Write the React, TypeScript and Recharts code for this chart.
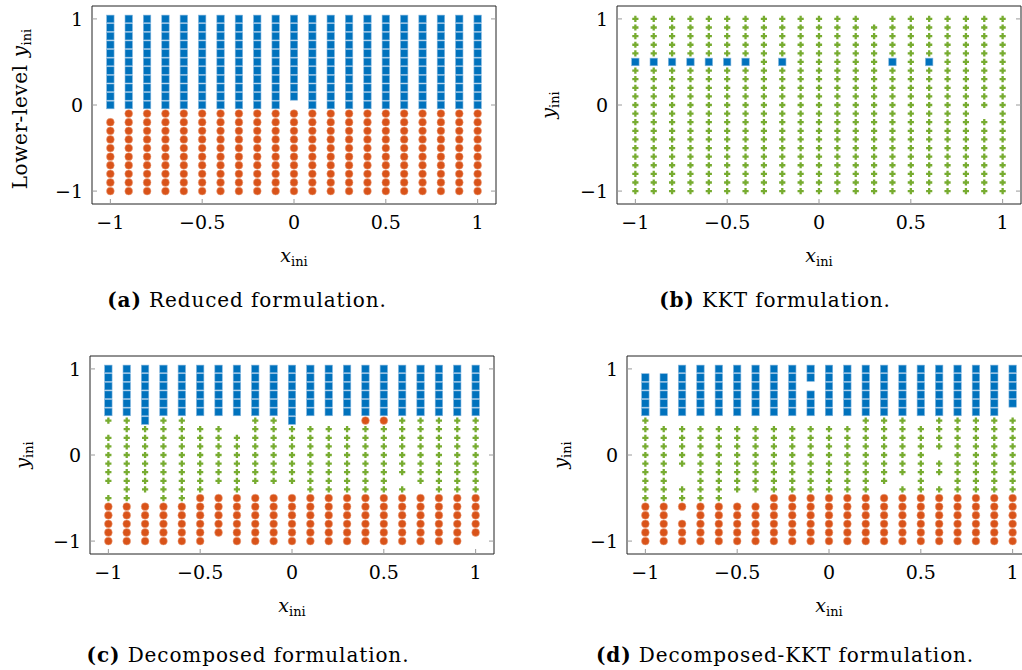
import React from 'react';
import { ScatterChart, Scatter, XAxis, YAxis } from 'recharts';

// grid of initial points
const xs = [-1, -0.9, -0.8, -0.7, -0.6, -0.5, -0.4, -0.3, -0.2, -0.1, 0, 0.1, 0.2, 0.3, 0.4, 0.5, 0.6, 0.7, 0.8, 0.9, 1];
const ys = [1, 0.9, 0.8, 0.7, 0.6, 0.5, 0.4, 0.3, 0.2, 0.1, 0, -0.1, -0.2, -0.3, -0.4, -0.5, -0.6, -0.7, -0.8, -0.9, -1];
const xTicks = [-1, -0.5, 0, 0.5, 1];
const yTicks = [-1, 0, 1];

// one string per x (left -> right), one char per y (top -> bottom)
// B = blue square, O = orange circle, G = green plus, . = no mark
const reducedCols = [
  'BBBBBBBBBBB.OOOOOOOOO', 'BBBBBBBBBBBOOOOOOOOOO', 'BBBBBBBBBBBOOOOOOOOOO', 'BBBBBBBBBBBOOOOOOOOOO',
  'BBBBBBBBBBBOOOOOOOOOO', 'BBBBBBBBBBBOOOOOOOOOO', 'BBBBBBBBBBBOOOOOOOOOO', 'BBBBBBBBBBBOOOOOOOOOO',
  'BBBBBBBBBBBOOOOOOOOOO', 'BBBBBBBBBBBOOOOOOOOOO', 'BBBBBBBBBB.OOOOOOOOOO', 'BBBBBBBBBBBOOOOOOOOOO',
  'BBBBBBBBBBBOOOOOOOOOO', 'BBBBBBBBBBBOOOOOOOOOO', 'BBBBBBBBBBBOOOOOOOOOO', 'BBBBBBBBBBBOOOOOOOOOO',
  'BBBBBBBBBBBOOOOOOOOOO', 'BBBBBBBBBBBOOOOOOOOOO', 'BBBBBBBBBBBOOOOOOOOOO', 'BBBBBBBBBBBOOOOOOOOOO',
  'BBBBBBBBBBBOOOOOOOOOO',
];

const kktCols = [
  'GGGGGBGGGGGGGGGGGGGGG', 'GGGGGBGGGGGGGGGGGGGGG', 'GGGGGBGGGGGGGGGGGGGGG', 'GGGGGBGGGGGGGGGGGGGGG',
  'GGGGGBGGGGGGGGGGGGGGG', 'GGGGGBGGGGGGGGGGGGGGG', 'GGGGGBGGGGGGGGGGGGGGG', 'GGGGGGGGGGGGGGGGGGGGG',
  'GGGGGBGGGGGGGGGGGGGGG', 'GGGGGGGGGGGGGGGGGGGGG', 'GGGGGGGGGGGGGGGGGGGGG', 'GGGGGGGGGGGGGGGGGGGGG',
  'GGGGGGGGGGGGGGGGGGGGG', '.GGGGGGGGGGGGGGGGGGGG', 'GGGGGBGGGGGGGGGGGGGGG', 'GGGGGGGGGGGGGGGGGGGGG',
  'GGGGGBGGGGGGGGGGGGGGG', 'GGGGGGGGGGGGGGGGGGGGG', 'GGGGGGGGGGGGGGGGGGGGG', 'GGGGGGGGGGG.GGGGGGGGG',
  'GGGGGGGGGGGGGGGGGGGGG',
];

const decompCols = [
  'BBBBBBG.GGGGGG.GOOOOO', 'BBBBBBGGGGGGGGGGOOOOO', 'BBBBBBBGGGGGGGG.OOOOO', 'BBBBBBGGGGGGGGGGOOOOO',
  'BBBBBBGGGGGGGGGGOOOOO', 'BBBBBB.GGGGGGGGOOOOOO', 'BBBBBB.GGGGGGG.OOOOO.', 'BBBBBB..GGGGGGGOOOOOO',
  'BBBBBBGGGGGGGG.OOOOOO', 'BBBBBBGGGGGGGG.OOOOOO', 'BBBBBBBGGGGGGG.OOOOOO', 'BBBBBB.GGGGGGGGOOOOOO',
  'BBBBBB.GGGGGGGGOOOOOO', 'BBBBBB.GGGGGGGGOOOOOO', 'BBBBBBOGGGGGGGGOOOOOO', 'BBBBBBOGGGGGGGGOOOOOO',
  'BBBBBBGGGGGGG.GOOOOOO', 'BBBBBBGGGGGGGG.OOOOOO', 'BBBBBBGGGGGGGGGOOOOOO', 'BBBBBBGGGGGGGGGOOOOOO',
  'BBBBBBGGGGGGGGGOOOOO.',
];

const decompKktCols = [
  '.BBBBBGGGGGGGGGGOOOOO', '.BBBBB.GGGGGGGGGOOOOO', 'BBBBBB.GGGGG..GGO.OOO', 'BBBBBB.GGGGGGGGGOOOOO',
  'BBBBBB.GGGGGGGGGOOOOO', 'BBBBBB.GGGGGGGG.OOOOO', 'BBBBBB.GGGGGGGG.OOOOO', 'BBBBBB.GGGGGGGGOOOOOO',
  'BBBBBB.GGGGGGGGOOOOOO', 'BB.BBB.GGGGGGGGOOOOOO', 'BBBBBB.GGGGGGGGOOOOOO', 'BBBBBB.GGGGGGGGOOOOOO',
  'BBBBBBGGGGGGGGGOOOOOO', 'BBBBBBGGGGGGGG.OOOOOO', 'BBBBBBGGGGGGG.GOOOOOO', 'BBBBBB.GGGGGGGGOOOOOO',
  'BBBBBBGGGG.GG.GOOOOOO', 'BBBBBBGGGGGGGGGOOOOOO', 'BBBBBBGGGGGGGGGOOOOOO', 'BBBBBBGGGGGGGGGOOOOOO',
  'BBBBB.GGGGGGGGGOOOOOO',
];

const BLUE = '#0072BD';
const ORANGE = '#D95319';
const GREEN = '#77AC30';
const FONT = '"DejaVu Serif", serif';
const FS = 19;

function pick(cols: string[], code: string) {
  const out: { x: number; y: number }[] = [];
  cols.forEach((col, i) => {
    col.split('').forEach((c, j) => {
      if (c === code) out.push({ x: xs[i], y: ys[j] });
    });
  });
  return out;
}

const fmt = (v: number) => (v < 0 ? '\u2212' + Math.abs(v) : String(v));

const Square = (p: any) => (
  <rect x={p.cx - 3.7} y={p.cy - 3.8} width={7.4} height={7.6} fill={BLUE} stroke="#7fb3dc" strokeWidth={0.6} />
);
const Dot = (p: any) => <circle cx={p.cx} cy={p.cy} r={3.9} fill={ORANGE} stroke="#eaa98a" strokeWidth={0.5} />;
const Plus = (p: any) => (
  <path d={`M${p.cx - 3.1},${p.cy}H${p.cx + 3.1}M${p.cx},${p.cy - 3.1}V${p.cy + 3.1}`} stroke={GREEN} strokeWidth={2.3} />
);

const TICK = '#9a9a9a';
const FRAME = '#222';

const BottomTick = (p: any) => (
  <g>
    <line x1={p.x} x2={p.x} y1={p.y} y2={p.y - 5} stroke={TICK} />
    <text x={p.x} y={p.y + 25} textAnchor="middle" fontFamily={FONT} fontSize={FS} fill="#000">
      {fmt(p.payload.value)}
    </text>
  </g>
);
const TopTick = (p: any) => <line x1={p.x} x2={p.x} y1={p.y} y2={p.y + 5} stroke={TICK} />;
const LeftTick = (p: any) => (
  <g>
    <line x1={p.x} x2={p.x + 5} y1={p.y} y2={p.y} stroke={TICK} />
    <text x={p.x - 9} y={p.y + 7} textAnchor="end" fontFamily={FONT} fontSize={FS} fill="#000">
      {fmt(p.payload.value)}
    </text>
  </g>
);
const RightTick = (p: any) => <line x1={p.x} x2={p.x - 5} y1={p.y} y2={p.y} stroke={TICK} />;

const FW = 404;
const FH = 198;
const YW = 60;
const XH = 40;

function Panel({ cols, left, top }: { cols: string[]; left: number; top: number }) {
  return (
    <div style={{ position: 'absolute', left: left - YW, top: top - 1 }}>
      <ScatterChart width={YW + FW + 1} height={1 + FH + XH} margin={{ top: 0, right: 0, bottom: 0, left: 0 }}>
        <XAxis xAxisId="b" type="number" dataKey="x" domain={[-1.1, 1.1]} ticks={xTicks} height={XH}
          tickSize={0} tickMargin={0} tickLine={false} tick={BottomTick} axisLine={{ stroke: FRAME }} allowDataOverflow />
        <XAxis xAxisId="t" orientation="top" type="number" domain={[-1.1, 1.1]} ticks={xTicks} height={1}
          tickSize={0} tickMargin={0} tickLine={false} tick={TopTick} axisLine={{ stroke: FRAME }} allowDataOverflow />
        <YAxis yAxisId="l" type="number" dataKey="y" domain={[-1.15, 1.15]} ticks={yTicks} width={YW}
          tickSize={0} tickMargin={0} tickLine={false} tick={LeftTick} axisLine={{ stroke: FRAME }} allowDataOverflow />
        <YAxis yAxisId="r" orientation="right" type="number" domain={[-1.15, 1.15]} ticks={yTicks} width={1}
          tickSize={0} tickMargin={0} tickLine={false} tick={RightTick} axisLine={{ stroke: FRAME }} allowDataOverflow />
        <Scatter xAxisId="b" yAxisId="l" data={pick(cols, 'G')} shape={Plus} isAnimationActive={false} />
        <Scatter xAxisId="b" yAxisId="l" data={pick(cols, 'O')} shape={Dot} isAnimationActive={false} />
        <Scatter xAxisId="b" yAxisId="l" data={pick(cols, 'B')} shape={Square} isAnimationActive={false} />
      </ScatterChart>
    </div>
  );
}

const Sym = ({ v }: { v: string }) => (
  <span>
    <i>{v}</i>
    <span style={{ fontSize: 13, verticalAlign: -4, lineHeight: 0, letterSpacing: 0 }}>ini</span>
  </span>
);

const centered = (x: number, y: number, rot = false, extra: React.CSSProperties = {}): React.CSSProperties => ({
  position: 'absolute',
  left: x,
  top: y,
  transform: `translate(-50%, -50%)${rot ? ' rotate(-90deg)' : ''}`,
  whiteSpace: 'nowrap',
  lineHeight: 1,
  ...extra,
});

const cap: React.CSSProperties = { fontSize: 20, letterSpacing: 0.9 };

export default function App() {
  return (
    <div style={{ position: 'fixed', left: 0, top: 0, width: 1022, height: 670, overflow: 'hidden', background: '#fff', fontFamily: FONT, fontSize: FS, color: '#000' }}>
      <Panel cols={reducedCols} left={92} top={6} />
      <Panel cols={kktCols} left={617} top={6} />
      <Panel cols={decompCols} left={90} top={356} />
      <Panel cols={decompKktCols} left={627} top={356} />

      <div style={centered(20, 109, true, { fontSize: 20, letterSpacing: 0.6 })}>Lower-level <Sym v="y" /></div>
      <div style={centered(548, 105, true)}><Sym v="y" /></div>
      <div style={centered(22, 455, true)}><Sym v="y" /></div>
      <div style={centered(560, 455, true)}><Sym v="y" /></div>

      <div style={centered(294, 255)}><Sym v="x" /></div>
      <div style={centered(819, 255)}><Sym v="x" /></div>
      <div style={centered(292, 605)}><Sym v="x" /></div>
      <div style={centered(829, 605)}><Sym v="x" /></div>

      <div style={centered(247, 300, false, cap)}><b>(a)</b> Reduced formulation.</div>
      <div style={centered(775, 300, false, cap)}><b>(b)</b> KKT formulation.</div>
      <div style={centered(248, 655, false, cap)}><b>(c)</b> Decomposed formulation.</div>
      <div style={centered(785, 655, false, cap)}><b>(d)</b> Decomposed-KKT formulation.</div>
    </div>
  );
}
